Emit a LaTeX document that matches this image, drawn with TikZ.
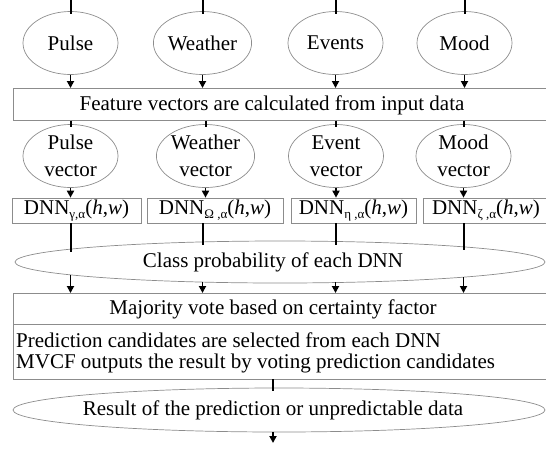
\documentclass[tikz,border=0pt]{standalone}
\usepackage{fontspec}
\setmainfont{Liberation Serif}
\usetikzlibrary{shapes.geometric,arrows.meta}
\newcommand{\dnnsub}[1]{\raisebox{-0.45ex}{\fontsize{13}{13}\selectfont #1}}
\begin{document}
\begin{tikzpicture}[x=1pt,y=-1pt,
  every node/.style={font=\fontsize{21}{26}\selectfont, inner sep=0pt},
  oval/.style={ellipse, draw=black!45, line width=0.7pt, minimum width=95pt, minimum height=63pt, align=center},
  wide/.style={draw=black!45, line width=0.7pt},
  conn/.style={line width=2pt},
  arr/.style={line width=1.8pt, -{Triangle[length=7pt,width=7pt]}}
]
\useasboundingbox (0,0) rectangle (546,448);
\clip (0,0) rectangle (546,448);

% input ellipses
\node[oval] (i1) at (70.5,43) {Pulse};
\node[oval] (i2) at (202.5,43) {Weather};
\node[oval] (i3) at (335.5,43) {Events};
\node[oval] (i4) at (464.5,43) {Mood};
\coordinate (t1) at (70.5,0);
\coordinate (t2) at (202.5,0);
\coordinate (t3) at (335.5,0);
\coordinate (t4) at (464.5,0);

% feature box
\node[wide, anchor=north west, minimum width=560pt, minimum height=32pt] (feat) at (13,88) {};
\node (feattxt) at (272,105) {Feature vectors are calculated from input data};

% vector ellipses
\node[oval, font=\fontsize{21}{27}\selectfont] (v1) at (70.5,156) {Pulse\\vector};
\node[oval, font=\fontsize{21}{27}\selectfont] (v2) at (205.5,156) {Weather\\vector};
\node[oval, font=\fontsize{21}{27}\selectfont] (v3) at (336,156) {Event\\vector};
\node[oval, font=\fontsize{21}{27}\selectfont] (v4) at (463.5,156) {Mood\\vector};

% DNN boxes
\node[wide, minimum width=129pt, minimum height=25pt] (d1) at (76.5,210.5) {DNN\dnnsub{γ,α}(\textit{h},\textit{w})};
\node[wide, minimum width=136pt, minimum height=25pt] (d2) at (215,210.5) {DNN\dnnsub{Ω ,α}(\textit{h},\textit{w})};
\node[wide, minimum width=125pt, minimum height=25pt] (d3) at (353.5,210.5) {DNN\dnnsub{η ,α}(\textit{h},\textit{w})};
\node[wide, anchor=west, minimum width=140pt, minimum height=25pt] (d4) at (423,210.5) {};
\node (d4txt) at (486,210.5) {DNN\dnnsub{ζ ,α}(\textit{h},\textit{w})};

% class probability ellipse
\node[ellipse, wide, minimum width=530pt, minimum height=42pt] (cls) at (280,262) {};
\node (clstxt) at (273,262) {Class probability of each DNN};
\coordinate (c1t) at (70.5,252);
\coordinate (c2t) at (202.5,245);
\coordinate (c3t) at (335.5,245);
\coordinate (c4t) at (463.5,250);
\coordinate (c1b) at (70.5,275);
\coordinate (c2b) at (202.5,282);
\coordinate (c3b) at (335.5,282);
\coordinate (c4b) at (463.5,277);

% majority box
\node[wide, anchor=north west, minimum width=560pt, minimum height=86pt] (maj) at (13,293) {};
\node (majtxt) at (273,309) {Majority vote based on certainty factor};
\draw[draw=black!45, line width=0.7pt] (maj.west |- 0,324) -- (maj.east |- 0,324);
\node[anchor=north west, align=left, font=\fontsize{21}{21}\selectfont] (mv) at (16,333) {Prediction candidates are selected from each DNN\\MVCF outputs the result by voting prediction candidates};

% result ellipse
\node[ellipse, wide, minimum width=532pt, minimum height=44pt] (res) at (279,410) {};
\node (restxt) at (273,410) {Result of the prediction or unpredictable data};
\coordinate (m1) at (273,379);
\coordinate (r1) at (273,391);
\coordinate (r2) at (273,432);
\coordinate (out) at (273,443);

% connectors
\foreach \k in {1,2,3,4}{
  \draw[conn] (t\k) -- ([yshift=-3pt]i\k.north);
  \draw[arr] (i\k.south) -- (i\k.south |- feat.north);
  \draw[conn] (v\k.north |- feat.south) -- ([yshift=-3pt]v\k.north);
  \draw[arr] (v\k.south) -- (v\k.south |- d1.north);
  \draw[conn] (c\k t |- d1.south) -- (c\k t);
  \draw[arr] (c\k b) -- (c\k b |- maj.north);
}
\draw[conn] (m1) -- (r1);
\draw[arr] (r2) -- (out);
\end{tikzpicture}
\end{document}
